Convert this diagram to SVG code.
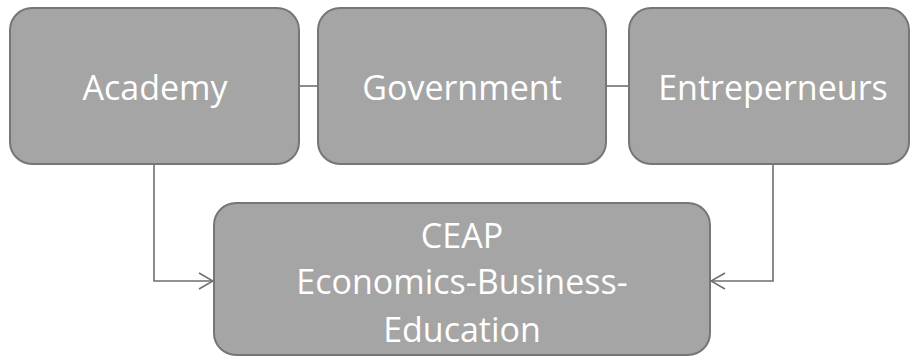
<svg xmlns="http://www.w3.org/2000/svg" width="911" height="357" viewBox="0 0 911 357">
<defs>
<style>
.box{fill:#a5a5a5;stroke:#767676;stroke-width:2}
.lbl{font-family:"Open Sans","Liberation Sans",sans-serif;font-size:34px;fill:#ffffff;text-anchor:middle}
.con{fill:none;stroke:#6f6f6f;stroke-width:1.6}
</style>
<marker id="arr" viewBox="0 0 16 18" refX="15" refY="9" markerWidth="16" markerHeight="18" markerUnits="userSpaceOnUse" orient="auto">
<path d="M1,1 L15,9 L1,17" fill="none" stroke="#6f6f6f" stroke-width="1.6"/>
</marker>
</defs>
<g id="connectors">
<line class="con" x1="299" y1="86" x2="318" y2="86"/>
<line class="con" x1="606" y1="86" x2="629" y2="86"/>
<path class="con" d="M154,164 V281 H213" marker-end="url(#arr)"/>
<path class="con" d="M773,164 V281 H711" marker-end="url(#arr)"/>
</g>
<g id="academy">
<rect class="box" x="10" y="8" width="289" height="156" rx="22"/>
<text class="lbl" x="155" y="100">Academy</text>
</g>
<g id="government">
<rect class="box" x="318" y="8" width="288" height="156" rx="22"/>
<text class="lbl" x="462" y="100">Government</text>
</g>
<g id="entrepreneurs">
<rect class="box" x="629" y="8" width="280" height="156" rx="22"/>
<text class="lbl" x="773" y="100">Entreperneurs</text>
</g>
<g id="ceap">
<rect class="box" x="214" y="203" width="496" height="152" rx="22"/>
<text class="lbl" x="462" y="248">CEAP</text>
<text class="lbl" x="462" y="294">Economics-Business-</text>
<text class="lbl" x="462" y="342">Education</text>
</g>
</svg>
